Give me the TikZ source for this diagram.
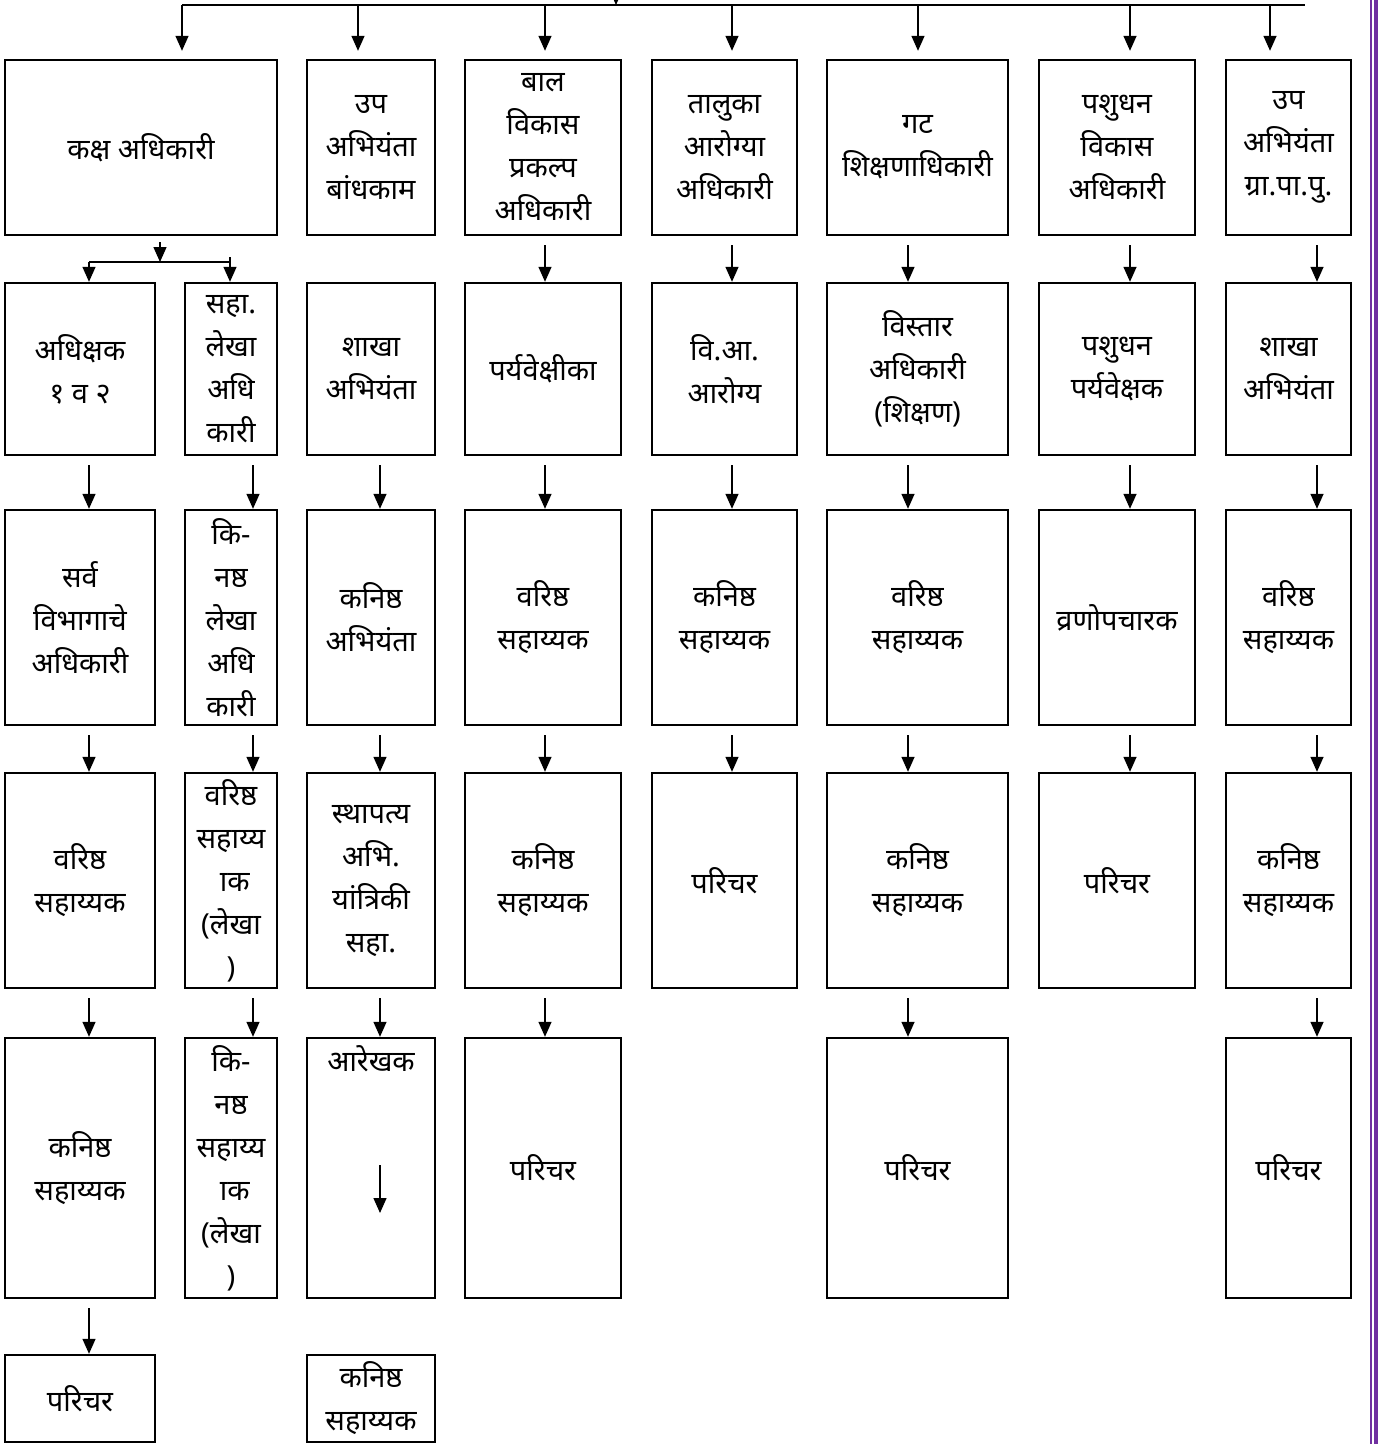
\documentclass[tikz,border=0pt]{standalone}
\usepackage{fontspec}
\newfontfamily\dev[Script=Devanagari]{Noto Sans}
\usetikzlibrary{arrows.meta,calc}
\definecolor{purpleline}{RGB}{112,48,160}
\begin{document}
\begin{tikzpicture}[x=1pt,y=-1pt,
  box/.style={draw,line width=2.4pt,inner sep=0pt,align=center,font=\dev\fontsize{29}{43}\selectfont},
  lbl/.style={inner sep=0pt,align=center,font=\dev\fontsize{29}{43}\selectfont},
  arr/.style={line width=1.4pt,-{Triangle[length=15pt,width=13pt]}},
  bar/.style={line width=1.4pt}]
\useasboundingbox (0,0) rectangle (1378,1444);
% ---------------- row 1
\node[box,minimum width=272,minimum height=175] (c1r1) at (141,147.5) {कक्ष अधिकारी};
\node[box,minimum width=128,minimum height=175] (c2r1) at (371,147.5) {उप\\अभियंता\\बांधकाम};
\node[box,minimum width=156,minimum height=175] (c3r1) at (543,147.5) {बाल\\विकास\\प्रकल्प\\अधिकारी};
\node[box,minimum width=145,minimum height=175] (c4r1) at (724.5,147.5) {तालुका\\आरोग्या\\अधिकारी};
\node[box,minimum width=181,minimum height=175] (c5r1) at (917.5,147.5) {गट\\शिक्षणाधिकारी};
\node[box,minimum width=156,minimum height=175] (c6r1) at (1117,147.5) {पशुधन\\विकास\\अधिकारी};
\node[box,minimum width=125,minimum height=175] (c7r1) at (1288.5,147.5) {उप\\अभियंता\\ग्रा.पा.पु.};
% ---------------- row 2
\node[box,minimum width=150,minimum height=172] (c1ar2) at (80,369) {अधिक्षक\\१ व २};
\node[box,minimum width=92,minimum height=172] (c1br2) at (231,369) {सहा.\\लेखा\\अधि\\कारी};
\node[box,minimum width=128,minimum height=172] (c2r2) at (371,369) {शाखा\\अभियंता};
\node[box,minimum width=156,minimum height=172] (c3r2) at (543,369) {पर्यवेक्षीका};
\node[box,minimum width=145,minimum height=172] (c4r2) at (724.5,369) {वि.आ.\\आरोग्य};
\node[box,minimum width=181,minimum height=172] (c5r2) at (917.5,369) {विस्तार\\अधिकारी\\(शिक्षण)};
\node[box,minimum width=156,minimum height=172] (c6r2) at (1117,369) {पशुधन\\पर्यवेक्षक};
\node[box,minimum width=125,minimum height=172] (c7r2) at (1288.5,369) {शाखा\\अभियंता};
% ---------------- row 3
\node[box,minimum width=150,minimum height=215] (c1ar3) at (80,617.5) {सर्व\\विभागाचे\\अधिकारी};
\node[box,minimum width=92,minimum height=215] (c1br3) at (231,617.5) {कि-\\नष्ठ\\लेखा\\अधि\\कारी};
\node[box,minimum width=128,minimum height=215] (c2r3) at (371,617.5) {कनिष्ठ\\अभियंता};
\node[box,minimum width=156,minimum height=215] (c3r3) at (543,617.5) {वरिष्ठ\\सहाय्यक};
\node[box,minimum width=145,minimum height=215] (c4r3) at (724.5,617.5) {कनिष्ठ\\सहाय्यक};
\node[box,minimum width=181,minimum height=215] (c5r3) at (917.5,617.5) {वरिष्ठ\\सहाय्यक};
\node[box,minimum width=156,minimum height=215] (c6r3) at (1117,617.5) {व्रणोपचारक};
\node[box,minimum width=125,minimum height=215] (c7r3) at (1288.5,617.5) {वरिष्ठ\\सहाय्यक};
% ---------------- row 4
\node[box,minimum width=150,minimum height=215] (c1ar4) at (80,880.5) {वरिष्ठ\\सहाय्यक};
\node[box,minimum width=92,minimum height=215] (c1br4) at (231,880.5) {वरिष्ठ\\सहाय्य\\^^^^00a0ाक\\(लेखा\\)};
\node[box,minimum width=128,minimum height=215] (c2r4) at (371,880.5) {स्थापत्य\\अभि.\\यांत्रिकी\\सहा.};
\node[box,minimum width=156,minimum height=215] (c3r4) at (543,880.5) {कनिष्ठ\\सहाय्यक};
\node[box,minimum width=145,minimum height=215] (c4r4) at (724.5,880.5) {परिचर};
\node[box,minimum width=181,minimum height=215] (c5r4) at (917.5,880.5) {कनिष्ठ\\सहाय्यक};
\node[box,minimum width=156,minimum height=215] (c6r4) at (1117,880.5) {परिचर};
\node[box,minimum width=125,minimum height=215] (c7r4) at (1288.5,880.5) {कनिष्ठ\\सहाय्यक};
% ---------------- row 5
\node[box,minimum width=150,minimum height=260] (c1ar5) at (80,1168) {कनिष्ठ\\सहाय्यक};
\node[box,minimum width=92,minimum height=260] (c1br5) at (231,1168) {कि-\\नष्ठ\\सहाय्य\\^^^^00a0ाक\\(लेखा\\)};
\node[box,minimum width=128,minimum height=260] (c2r5) at (371,1168) {};
\node[lbl] (c2r5t) at ($(c2r5.north)+(0,22)$) {आरेखक};
\node[box,minimum width=156,minimum height=260] (c3r5) at (543,1168) {परिचर};
\node[box,minimum width=181,minimum height=260] (c5r5) at (917.5,1168) {परिचर};
\node[box,minimum width=125,minimum height=260] (c7r5) at (1288.5,1168) {परिचर};
% ---------------- row 6
\node[box,minimum width=150,minimum height=87] (c1ar6) at (80,1398.5) {परिचर};
\node[box,minimum width=128,minimum height=87] (c2r6) at (371,1398.5) {कनिष्ठ\\सहाय्यक};
% ---------------- top bar and arrows
\coordinate (barL) at (182,5);
\coordinate (barR) at (1305,5);
\coordinate (feed) at (616,-30);
\coordinate (feedTip) at (616,5);
\draw[bar] (barL) -- (barR);
\draw[arr] (feed) -- (feedTip);
\foreach \n/\x in {c1r1/182,c2r1/358,c3r1/545,c4r1/732,c5r1/918,c6r1/1130,c7r1/1270}{
  \coordinate (t\n) at (\x,5);
  \draw[arr] (t\n) -- ($(t\n |- \n.north)+(0,-8)$);
}
% column arrow x positions
\coordinate (a1) at (89,0);
\coordinate (ab) at (253,0);
\coordinate (a2) at (380,0);
\coordinate (a3) at (545,0);
\coordinate (a4) at (732,0);
\coordinate (a5) at (908,0);
\coordinate (a6) at (1130,0);
\coordinate (a7) at (1317,0);
% split under first box
\coordinate (sp) at (160,262);
\coordinate (spL) at (89,262);
\coordinate (spR) at (230,262);
\draw[arr] ($(sp |- c1r1.south)+(0,6)$) -- (sp);
\draw[bar] (spL) -- (spR);
\draw[arr] (spL) -- (spL |- c1ar2.north);
\draw[arr] ($(spR)+(0,-5)$) -- (spR |- c1br2.north);
% vertical arrows
\foreach \u/\v/\a in {c3r1/c3r2/a3,c4r1/c4r2/a4,c5r1/c5r2/a5,c6r1/c6r2/a6,c7r1/c7r2/a7,
  c1ar2/c1ar3/a1,c1br2/c1br3/ab,c2r2/c2r3/a2,c3r2/c3r3/a3,c4r2/c4r3/a4,c5r2/c5r3/a5,c6r2/c6r3/a6,c7r2/c7r3/a7,
  c1ar3/c1ar4/a1,c1br3/c1br4/ab,c2r3/c2r4/a2,c3r3/c3r4/a3,c4r3/c4r4/a4,c5r3/c5r4/a5,c6r3/c6r4/a6,c7r3/c7r4/a7,
  c1ar4/c1ar5/a1,c1br4/c1br5/ab,c2r4/c2r5/a2,c3r4/c3r5/a3,c5r4/c5r5/a5,c7r4/c7r5/a7,
  c1ar5/c1ar6/a1}{
  \draw[arr] ($(\a |- \u.south)+(0,9)$) -- (\a |- \v.north);
}
% arrow inside the drafting box
\coordinate (inA) at (380,1165);
\coordinate (inB) at (380,1213);
\draw[arr] (inA) -- (inB);
% purple page border
\draw[purpleline,line width=1.2pt] (1371,0) -- (1371,1444);
\draw[purpleline,line width=4pt] (1375.5,0) -- (1375.5,1444);
\end{tikzpicture}
\end{document}
